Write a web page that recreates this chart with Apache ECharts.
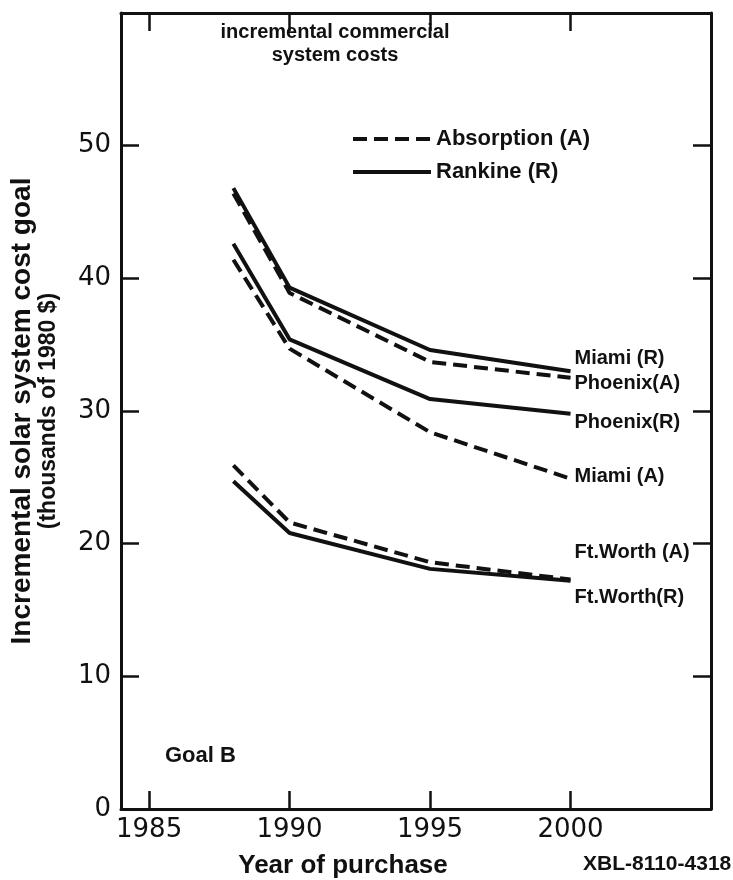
<!DOCTYPE html>
<html>
<head>
<meta charset="utf-8">
<script src="https://cdn.jsdelivr.net/npm/echarts@6/dist/echarts.min.js"></script>
<style>
  html, body { margin: 0; padding: 0; background: #fff; }
  #chart { width: 733px; height: 880px; }
</style>
</head>
<body>
<div id="chart"></div>
<script>
// Dados
const years = [1988, 1990, 1995, 2000];
const miamiR = [46.8, 39.3, 34.6, 33.0];
const phoenixA = [46.4, 38.9, 33.7, 32.5];
const phoenixR = [42.6, 35.4, 30.9, 29.8];
const miamiA = [41.4, 34.7, 28.4, 24.9];
const ftWorthA = [25.9, 21.6, 18.6, 17.3];
const ftWorthR = [24.7, 20.8, 18.1, 17.2];

const xTicks = [1985, 1990, 1995, 2000];
const yTicks = [0, 10, 20, 30, 40, 50];

const INK = '#111';
const TEXT_FONT = 'Liberation Sans';
const NUM_FONT = 'DejaVu Sans';
const DASH = [14, 7];

function pairs(values) {
    return years.map((y, i) => [y, values[i]]);
}

function curve(name, values, dashed, dy) {
    return {
        name: name,
        type: 'line',
        data: pairs(values),
        symbol: 'none',
        silent: true,
        lineStyle: { color: INK, width: 4, type: dashed ? DASH : 'solid' },
        endLabel: {
            show: true,
            formatter: '{a}',
            color: INK,
            fontFamily: TEXT_FONT,
            fontWeight: 'bold',
            fontSize: 20,
            distance: 4,
            offset: [0, dy]
        }
    };
}

const chart = echarts.init(document.getElementById('chart'));

const frameAxis = {
    axisLine: { show: true, onZero: false, lineStyle: { color: INK, width: 3 } },
    axisTick: { show: true, inside: true, length: 18, lineStyle: { color: INK, width: 2.5 } },
    splitLine: { show: false }
};

const option = {
    backgroundColor: '#fff',
    animation: false,
    title: [
        {
            text: 'incremental commercial\nsystem costs',
            left: 330, top: 16, textAlign: 'center',
            textStyle: { fontFamily: TEXT_FONT, fontWeight: 'bold', fontSize: 20, lineHeight: 23, color: INK }
        },
        {
            text: 'Year of purchase',
            left: 338, top: 848, textAlign: 'center',
            textStyle: { fontFamily: TEXT_FONT, fontWeight: 'bold', fontSize: 26, color: INK }
        },
        {
            text: 'XBL-8110-4318',
            left: 578, top: 849,
            textStyle: { fontFamily: TEXT_FONT, fontWeight: 'bold', fontSize: 21, color: INK }
        }
    ],
    legend: {
        left: 346, top: 123,
        orient: 'vertical',
        itemWidth: 78, itemHeight: 14, itemGap: 11,
        data: ['Absorption (A)', 'Rankine (R)'],
        itemStyle: { opacity: 0 },
        lineStyle: { color: INK, width: 4 },
        textStyle: { fontFamily: TEXT_FONT, fontWeight: 'bold', fontSize: 22, color: INK },
        selectedMode: false
    },
    graphic: [{
        type: 'text', left: 165, top: 745,
        style: { text: 'Goal B', font: 'bold 22px "Liberation Sans"', fill: INK }
    }],
    grid: { left: 121, right: 22, top: 13, bottom: 71 },
    xAxis: [
        Object.assign({}, frameAxis, {
            type: 'value', min: 1984, max: 2005, position: 'bottom',
            axisTick: Object.assign({}, frameAxis.axisTick, { customValues: xTicks }),
            axisLabel: {
                customValues: xTicks, margin: 8,
                formatter: v => String(v),
                fontFamily: NUM_FONT, fontSize: 26, color: INK
            }
        }),
        Object.assign({}, frameAxis, {
            type: 'value', min: 1984, max: 2005, position: 'top',
            axisTick: Object.assign({}, frameAxis.axisTick, { customValues: xTicks }),
            axisLabel: { show: false }
        })
    ],
    yAxis: [
        Object.assign({}, frameAxis, {
            type: 'value', min: 0, max: 60, position: 'left',
            axisTick: Object.assign({}, frameAxis.axisTick, { customValues: yTicks.slice(1) }),
            axisLabel: {
                customValues: yTicks, margin: 10,
                fontFamily: NUM_FONT, fontSize: 26, color: INK
            },
            name: '{a|Incremental solar system cost goal}\n{b|(thousands of 1980 $)}',
            nameLocation: 'middle',
            nameRotate: 90,
            nameGap: 60,
            nameTextStyle: {
                color: INK,
                rich: {
                    a: { fontFamily: TEXT_FONT, fontWeight: 'bold', fontSize: 28, lineHeight: 27, color: INK },
                    b: { fontFamily: TEXT_FONT, fontWeight: 'bold', fontSize: 23, lineHeight: 25, color: INK }
                }
            }
        }),
        Object.assign({}, frameAxis, {
            type: 'value', min: 0, max: 60, position: 'right',
            axisTick: Object.assign({}, frameAxis.axisTick, { customValues: yTicks.slice(1) }),
            axisLabel: { show: false }
        })
    ],
    series: [
        curve('Miami (R)', miamiR, false, -13),
        curve('Phoenix(A)', phoenixA, true, 6),
        curve('Phoenix(R)', phoenixR, false, 9),
        curve('Miami (A)', miamiA, true, -2),
        curve('Ft.Worth (A)', ftWorthA, true, -27),
        curve('Ft.Worth(R)', ftWorthR, false, 17),
        // séries vazias só para a legenda
        { name: 'Absorption (A)', type: 'line', data: [], symbol: 'none',
          itemStyle: { color: INK },
          lineStyle: { color: INK, width: 4, type: DASH } },
        { name: 'Rankine (R)', type: 'line', data: [], symbol: 'none',
          itemStyle: { color: INK },
          lineStyle: { color: INK, width: 4, type: 'solid' } }
    ]
};

chart.setOption(option);
</script>
</body>
</html>
